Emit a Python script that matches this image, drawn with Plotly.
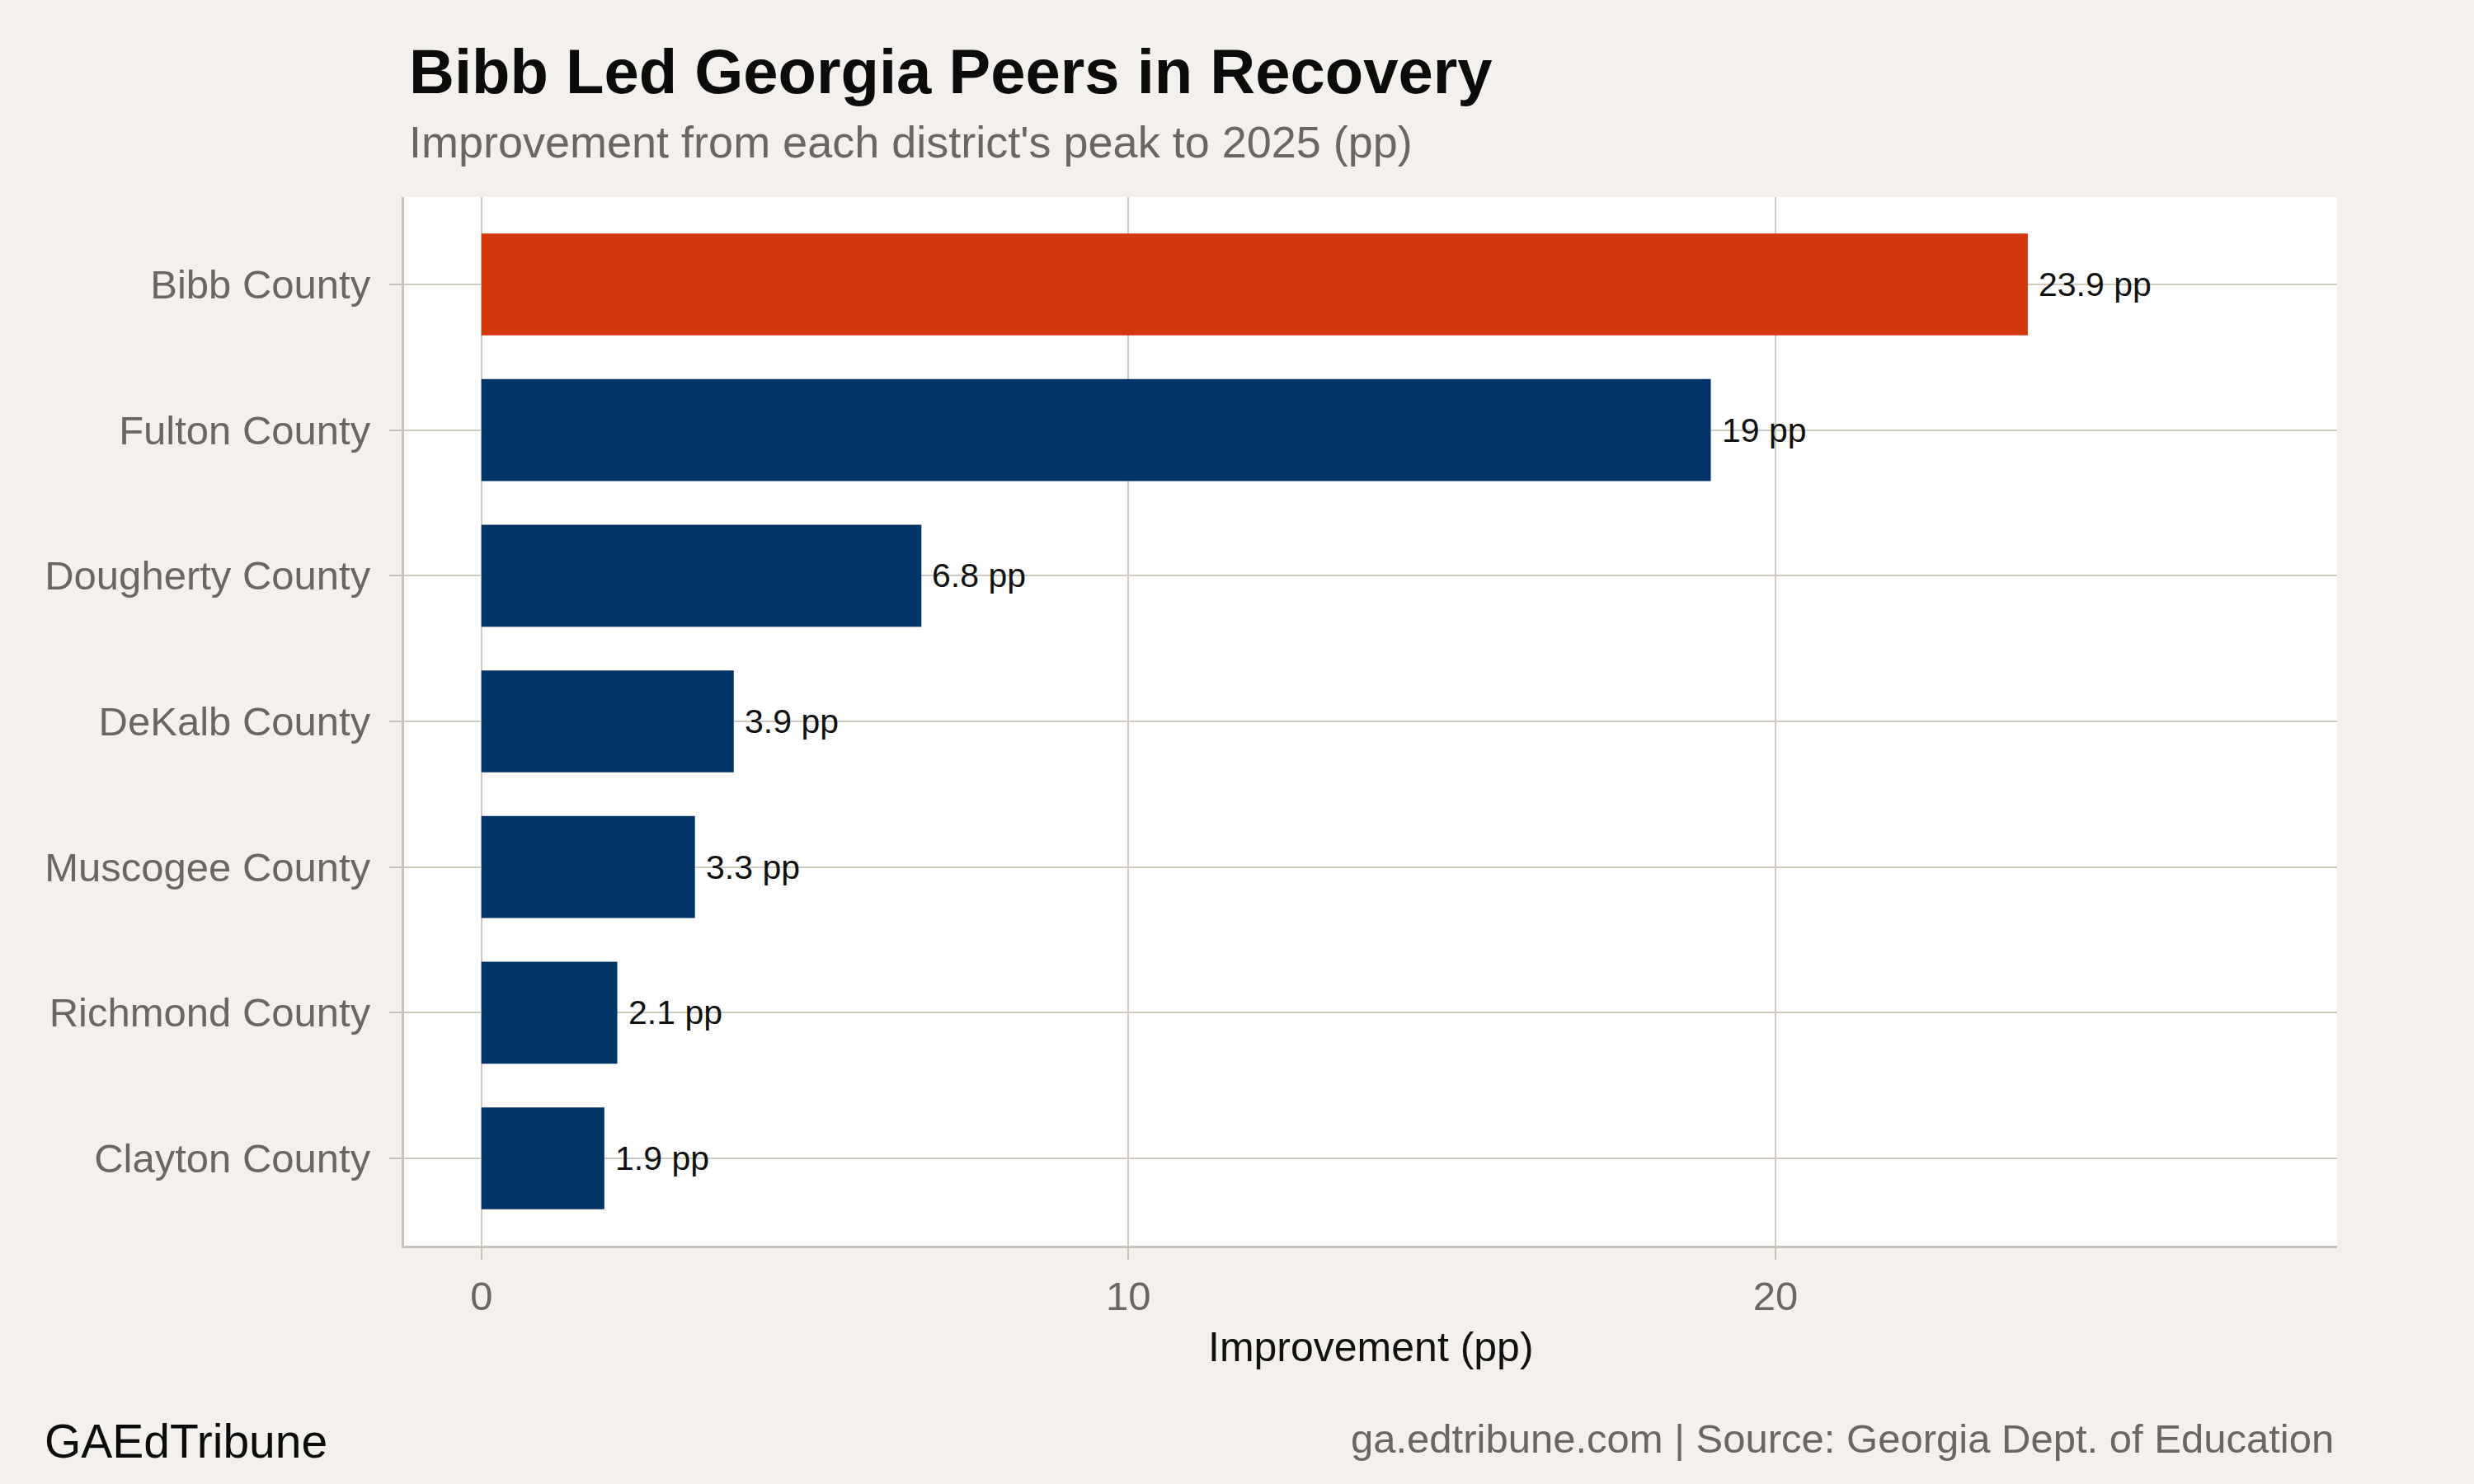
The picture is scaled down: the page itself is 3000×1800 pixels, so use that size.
import plotly.graph_objects as go

counties = ["Bibb County", "Fulton County", "Dougherty County", "DeKalb County",
            "Muscogee County", "Richmond County", "Clayton County"]
improvement = [23.9, 19.0, 6.8, 3.9, 3.3, 2.1, 1.9]
highlight = "Bibb County"
x_ticks = [0, 10, 20]

title_text = "Bibb Led Georgia Peers in Recovery"
subtitle_text = "Improvement from each district's peak to 2025 (pp)"
x_title = "Improvement (pp)"
caption_left = "GAEdTribune"
caption_right = "ga.edtribune.com | Source: Georgia Dept. of Education"

ORANGE = "#D4390E"
NAVY = "#003366"
BG = "#F4F1EC"
GRID = "#D0CAC1"
AXIS = "#C9C2B8"
GRAY = "#6B6660"
FONT = "Liberation Sans, Arial, sans-serif"

colors = [ORANGE if c == highlight else NAVY for c in counties]

fig = go.Figure()
fig.add_trace(go.Bar(
    x=improvement, y=counties, orientation="h",
    marker=dict(color=colors, line=dict(width=0)),
    width=0.7, hoverinfo="skip", showlegend=False,
))

annotations = []
for c, v in zip(counties, improvement):
    annotations.append(dict(
        x=v, y=c, xref="x", yref="y", text=f"{v:g} pp", showarrow=False,
        xanchor="left", yanchor="middle", xshift=11,
        font=dict(family=FONT, size=41, color="#111111"),
    ))

L, R, T, B = 490, 2834, 239, 1511
W, H = R - L, B - T

def py(pix):
    return (B - pix) / H

def px(pix):
    return (pix - L) / W

annotations += [
    dict(text=f"<b>{title_text}</b>", x=px(494), y=py(86), xref="paper", yref="paper",
         xanchor="left", yanchor="middle", showarrow=False,
         font=dict(family=FONT, size=76, color="#0B0B0B")),
    dict(text=subtitle_text, x=px(494), y=py(172), xref="paper", yref="paper",
         xanchor="left", yanchor="middle", showarrow=False,
         font=dict(family=FONT, size=54, color=GRAY)),
    dict(text=x_title, x=0.5, y=py(1634), xref="paper", yref="paper",
         xanchor="center", yanchor="middle", showarrow=False,
         font=dict(family=FONT, size=50, color="#111111")),
    dict(text=caption_left, x=px(52), y=py(1748), xref="paper", yref="paper",
         xanchor="left", yanchor="middle", showarrow=False,
         font=dict(family=FONT, size=57, color="#0B0B0B")),
    dict(text=caption_right, x=px(2832), y=py(1745), xref="paper", yref="paper",
         xanchor="right", yanchor="middle", showarrow=False,
         font=dict(family=FONT, size=49, color=GRAY)),
]

xmax = max(improvement)
fig.update_layout(
    width=3000, height=1800, autosize=False,
    margin=dict(l=L, r=3000 - R, t=T, b=1800 - B, pad=0),
    paper_bgcolor=BG, plot_bgcolor="#FFFFFF",
    bargap=0.3,
    annotations=annotations,
    xaxis=dict(
        range=[-0.05 * xmax, 1.2 * xmax], tickvals=x_ticks,
        ticktext=[str(t) for t in x_ticks],
        showgrid=True, gridcolor=GRID, gridwidth=2, zeroline=False,
        showline=True, linecolor=AXIS, linewidth=3,
        ticks="outside", ticklen=14, tickwidth=2, tickcolor=AXIS,
        tickfont=dict(family=FONT, size=49, color=GRAY),
        ticklabelstandoff=2,
    ),
    yaxis=dict(
        categoryorder="array", categoryarray=counties,
        range=[len(counties) - 0.4, -0.6],
        showgrid=True, gridcolor=GRID, gridwidth=2, zeroline=False,
        showline=True, linecolor=AXIS, linewidth=3,
        ticks="outside", ticklen=15, tickwidth=2, tickcolor=AXIS,
        tickfont=dict(family=FONT, size=49, color=GRAY),
        ticklabelstandoff=13,
    ),
)

fig.write_html("out.html")
